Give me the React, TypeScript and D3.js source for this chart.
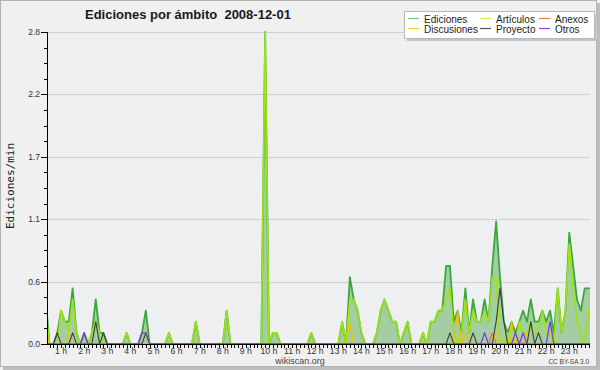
import React from "react";
import * as d3 from "d3";

// 10-minute bins, index 0 = 00:00 ... 144 = 24:00 (edits per minute)
const ediciones = [
  0, 0, 0.4, 0, 0, 0.1, 0.3, 0.2, 0.2, 0.5,
  0.1, 0, 0.1, 0, 0.1, 0.4, 0.1, 0.1, 0, 0,
  0, 0, 0, 0.1, 0, 0, 0, 0.1, 0.3, 0,
  0, 0, 0, 0, 0.1, 0, 0, 0, 0, 0,
  0, 0.2, 0, 0, 0, 0, 0, 0, 0, 0.3,
  0, 0, 0, 0, 0, 0, 0, 0, 0, 2.8,
  0, 0.1, 0.1, 0, 0, 0, 0, 0, 0, 0,
  0, 0.1, 0, 0, 0, 0, 0, 0, 0, 0.2,
  0, 0.6, 0.4, 0.3, 0.1, 0, 0, 0, 0.1, 0.3,
  0.4, 0.3, 0.2, 0.2, 0, 0.1, 0.2, 0, 0, 0,
  0.1, 0, 0.2, 0.2, 0.3, 0.3, 0.7, 0.7, 0.2, 0.3,
  0.1, 0.5, 0.1, 0.4, 0.2, 0.2, 0.4, 0.2, 0.7, 1.1,
  0.6, 0.2, 0.1, 0.2, 0.1, 0.2, 0.3, 0.2, 0.4, 0.2,
  0.2, 0.3, 0.2, 0.3, 0.1, 0.5, 0.1, 0.3, 1.0, 0.7,
  0.4, 0.3, 0.5, 0.5, 0.5,
];

const articulos = [
  0, 0, 0.3, 0, 0, 0, 0.3, 0.2, 0.1, 0.4,
  0.1, 0, 0, 0, 0.1, 0.2, 0.1, 0, 0, 0,
  0, 0, 0, 0.1, 0, 0, 0, 0, 0.1, 0,
  0, 0, 0, 0, 0.1, 0, 0, 0, 0, 0,
  0, 0.2, 0, 0, 0, 0, 0, 0, 0, 0.3,
  0, 0, 0, 0, 0, 0, 0, 0, 0, 2.8,
  0, 0.1, 0.1, 0, 0, 0, 0, 0, 0, 0,
  0, 0.1, 0, 0, 0, 0, 0, 0, 0, 0.2,
  0, 0.4, 0.4, 0.3, 0.1, 0, 0, 0, 0.1, 0.3,
  0.4, 0.3, 0.2, 0.2, 0, 0.1, 0.2, 0, 0, 0,
  0.1, 0, 0.2, 0.2, 0.3, 0.3, 0.4, 0.5, 0.1, 0,
  0.1, 0.4, 0.1, 0.3, 0.2, 0.2, 0.3, 0.2, 0.6, 0.6,
  0, 0, 0.1, 0, 0, 0.2, 0.1, 0.1, 0.2, 0.1,
  0.1, 0.3, 0.1, 0.1, 0, 0.5, 0.1, 0.3, 0.9, 0.5,
  0.2, 0.1, 0, 0.3, 0.4,
];

const anexos = [
  0, 0, 0, 0, 0, 0, 0, 0, 0, 0,
  0, 0, 0, 0, 0, 0, 0, 0, 0, 0,
  0, 0, 0, 0, 0, 0, 0, 0, 0, 0,
  0, 0, 0, 0, 0, 0, 0, 0, 0, 0,
  0, 0, 0, 0, 0, 0, 0, 0, 0, 0,
  0, 0, 0, 0, 0, 0, 0, 0, 0, 0,
  0, 0, 0, 0, 0, 0, 0, 0, 0, 0,
  0, 0, 0, 0, 0, 0, 0, 0, 0, 0,
  0, 0, 0, 0, 0, 0, 0, 0, 0, 0,
  0, 0, 0, 0, 0, 0, 0, 0, 0, 0,
  0, 0, 0, 0, 0, 0, 0, 0, 0, 0,
  0, 0, 0, 0, 0, 0, 0, 0, 0.1, 0,
  0, 0, 0, 0, 0, 0, 0, 0, 0, 0,
  0, 0, 0, 0, 0, 0, 0, 0, 0, 0,
  0, 0, 0, 0, 0,
];

const discusiones = [
  0, 0, 0.1, 0, 0, 0, 0, 0, 0.1, 0,
  0, 0, 0, 0, 0, 0, 0, 0, 0, 0,
  0, 0, 0, 0, 0, 0, 0, 0, 0, 0,
  0, 0, 0, 0, 0, 0, 0, 0, 0, 0,
  0, 0, 0, 0, 0, 0, 0, 0, 0, 0,
  0, 0, 0, 0, 0, 0, 0, 0, 0, 0,
  0, 0, 0, 0, 0, 0, 0, 0, 0, 0,
  0, 0, 0, 0, 0, 0, 0, 0, 0, 0,
  0, 0.2, 0, 0, 0, 0, 0, 0, 0, 0,
  0, 0, 0, 0, 0, 0, 0, 0, 0, 0,
  0, 0, 0, 0, 0, 0, 0, 0, 0, 0.3,
  0, 0.1, 0, 0, 0, 0, 0, 0, 0, 0.1,
  0, 0, 0, 0.2, 0, 0, 0, 0.1, 0, 0,
  0, 0, 0, 0, 0, 0, 0, 0, 0, 0,
  0, 0, 0, 0, 0,
];

const proyecto = [
  0, 0, 0, 0, 0, 0.1, 0, 0, 0, 0.1,
  0, 0, 0, 0, 0, 0.2, 0, 0.1, 0, 0,
  0, 0, 0, 0, 0, 0, 0, 0, 0.1, 0,
  0, 0, 0, 0, 0, 0, 0, 0, 0, 0,
  0, 0, 0, 0, 0, 0, 0, 0, 0, 0,
  0, 0, 0, 0, 0, 0, 0, 0, 0, 0,
  0, 0, 0, 0, 0, 0, 0, 0, 0, 0,
  0, 0, 0, 0, 0, 0, 0, 0, 0, 0,
  0, 0, 0, 0, 0, 0, 0, 0, 0, 0,
  0, 0, 0, 0, 0, 0, 0, 0, 0, 0,
  0, 0, 0, 0, 0, 0, 0, 0.1, 0, 0,
  0, 0, 0, 0.1, 0, 0, 0, 0, 0, 0.2,
  0.5, 0.2, 0, 0, 0, 0, 0, 0, 0.2, 0,
  0.1, 0, 0, 0, 0, 0, 0, 0, 0, 0,
  0, 0, 0, 0, 0,
];

const otros = [
  0, 0, 0, 0, 0, 0, 0, 0, 0, 0,
  0, 0, 0.1, 0, 0, 0, 0, 0, 0, 0,
  0, 0, 0, 0, 0, 0, 0, 0.1, 0.1, 0,
  0, 0, 0, 0, 0, 0, 0, 0, 0, 0,
  0, 0, 0, 0, 0, 0, 0, 0, 0, 0,
  0, 0, 0, 0, 0, 0, 0, 0, 0, 0,
  0, 0, 0, 0, 0, 0, 0, 0, 0, 0,
  0, 0, 0, 0, 0, 0, 0, 0, 0, 0,
  0, 0, 0, 0, 0, 0, 0, 0, 0, 0,
  0, 0, 0, 0, 0, 0, 0, 0, 0, 0,
  0, 0, 0, 0, 0, 0, 0, 0, 0, 0,
  0, 0, 0, 0, 0, 0, 0.1, 0, 0, 0,
  0, 0, 0, 0, 0.1, 0, 0.1, 0, 0, 0,
  0, 0, 0, 0.2, 0, 0, 0, 0, 0, 0,
  0, 0, 0, 0, 0,
];

const hourLabels = [
  "1 h", "2 h", "3 h", "4 h", "5 h", "6 h", "7 h", "8 h", "9 h", "10 h", "11 h", "12 h",
  "13 h", "14 h", "15 h", "16 h", "17 h", "18 h", "19 h", "20 h", "21 h", "22 h", "23 h",
];
const yMax = 2.8;
const yMajorCount = 5;
const yMinorPerMajor = 4;

const legendItems = [
  { name: "Ediciones", color: "#7cc47c", col: 0, row: 0 },
  { name: "Discusiones", color: "#f7cf3a", col: 0, row: 1 },
  { name: "Artículos", color: "#c6ee55", col: 1, row: 0 },
  { name: "Proyecto", color: "#555555", col: 1, row: 1 },
  { name: "Anexos", color: "#ee7a45", col: 2, row: 0 },
  { name: "Otros", color: "#9040e8", col: 2, row: 1 },
];

const L = 47, R = 590, T = 32, B = 344;

export default function App() {
  const x = d3.scaleLinear().domain([0, 144]).range([38, 38 + 3.85 * 144]);
  const y = d3.scaleLinear().domain([0, yMax]).range([B, T]);

  const mkLine = (arr: number[]) =>
    d3.line<number>().x((_, i) => x(i)).y((d) => y(d))(arr) || "";
  const areaPath =
    d3.area<number>().x((_, i) => x(i)).y0(B).y1((d) => y(d))(ediciones) || "";

  const yTicks = d3.range(0, yMajorCount * yMinorPerMajor + 1).map((k) => ({
    v: (k * yMax) / (yMajorCount * yMinorPerMajor),
    major: k % yMinorPerMajor === 0,
  }));
  const xTickIdx = d3.range(0, 145).filter((i) => x(i) >= L && x(i) <= R);

  const series = [
    { data: articulos, color: "#9fe412", w: 1.6 },
    { data: anexos, color: "#ee6f2d", w: 1.2 },
    { data: discusiones, color: "#f5c000", w: 1.2 },
    { data: proyecto, color: "#3c3c3c", w: 1.1 },
    { data: otros, color: "#8030e6", w: 1.2 },
  ];

  const colX = [408, 480, 539];
  const rowY = [18.5, 28.5];

  return (
    <svg
      width={600}
      height={370}
      style={{ position: "absolute", left: 0, top: 0, display: "block" }}
      fontFamily="'Liberation Sans', Arial, sans-serif"
    >
      <defs>
        <clipPath id="plotclip">
          <rect x={L} y={T - 2} width={R - L} height={B - T + 2} />
        </clipPath>
      </defs>
      {/* frame */}
      <rect x={0} y={0} width={600} height={370} fill="#f0f0f0" />
      <rect x={597} y={3} width={3} height={367} fill="#bdbdbd" />
      <rect x={3} y={367} width={597} height={3} fill="#bdbdbd" />
      <rect x={0.5} y={0.5} width={596} height={366} fill="#f0f0f0" stroke="#b4b4b4" />

      {/* plot area */}
      <rect x={L} y={T} width={R - L} height={B - T} fill="#eeeff1" />
      {yTicks.filter((t) => t.major && t.v > 0).map((t, i) => (
        <line key={i} x1={L} x2={R} y1={Math.round(y(t.v)) + 0.5} y2={Math.round(y(t.v)) + 0.5} stroke="#cfcfcf" />
      ))}

      <g clipPath="url(#plotclip)">
        <path d={areaPath} fill="#a3cda3" />
        <path d={mkLine(ediciones)} fill="none" stroke="#3aa83a" strokeWidth={1.8} strokeLinejoin="round" />
        {series.map((s, i) => (
          <path key={i} d={mkLine(s.data)} fill="none" stroke={s.color} strokeWidth={s.w} strokeLinejoin="round" />
        ))}
      </g>

      {/* axes */}
      <line x1={L + 0.5} x2={L + 0.5} y1={T} y2={B + 1} stroke="#000" />
      <line x1={L} x2={R} y1={B + 0.5} y2={B + 0.5} stroke="#000" />
      {yTicks.map((t, i) => (
        <line
          key={i}
          x1={t.major ? L - 6 : L - 3}
          x2={L}
          y1={Math.round(y(t.v)) + 0.5}
          y2={Math.round(y(t.v)) + 0.5}
          stroke="#000"
        />
      ))}
      {yTicks.filter((t) => t.major).map((t, i) => (
        <text key={i} x={L - 7} y={y(t.v) + 3} fontSize={8.5} fill="#333" textAnchor="end">
          {t.v.toFixed(1)}
        </text>
      ))}
      {xTickIdx.map((i) => (
        <line key={i} x1={Math.round(x(i)) + 0.5} x2={Math.round(x(i)) + 0.5} y1={B} y2={B + 4} stroke="#000" />
      ))}
      {hourLabels.map((lab, h) => (
        <text key={lab} x={x((h + 1) * 6)} y={354} fontSize={8.7} fill="#333" textAnchor="middle">
          {lab}
        </text>
      ))}

      {/* titles */}
      <text x={85} y={19} fontSize={13} fontWeight="bold" fill="#1a1a1a" style={{ whiteSpace: "pre" }}>
        {"Ediciones por ámbito  2008-12-01"}
      </text>
      <text
        transform="translate(14,186) rotate(-90)"
        textAnchor="middle"
        fontSize={11}
        fontFamily="'DejaVu Sans Mono', monospace"
        fill="#222"
      >
        Ediciones/min
      </text>
      <text x={300} y={364} fontSize={9} fill="#444" textAnchor="middle">wikiscan.org</text>
      <text x={589} y={364} fontSize={6.5} fill="#444" textAnchor="end">CC BY-SA 3.0</text>

      {/* legend */}
      <rect x={407} y={14} width={190} height={27} fill="#c4c4c4" />
      <rect x={404.5} y={11.5} width={190} height={27} fill="#ffffff" stroke="#b8b8b8" />
      {legendItems.map((it) => (
        <g key={it.name}>
          <line
            x1={colX[it.col]}
            x2={colX[it.col] + 11}
            y1={rowY[it.row]}
            y2={rowY[it.row]}
            stroke={it.color}
            strokeWidth={1.2}
          />
          <text x={colX[it.col] + 16} y={rowY[it.row] + 4} fontSize={10} fill="#222">
            {it.name}
          </text>
        </g>
      ))}
    </svg>
  );
}
